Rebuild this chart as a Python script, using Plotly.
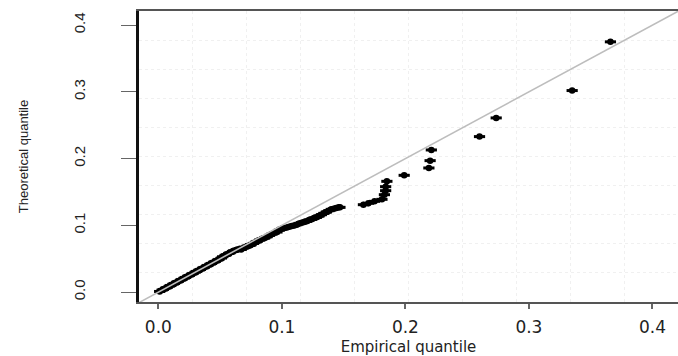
import plotly.graph_objects as go

# ---- data ----
empirical = [
    0.001, 0.003, 0.004, 0.006, 0.007, 0.009, 0.010, 0.012, 0.013, 0.015,
    0.016, 0.018, 0.019, 0.021, 0.022, 0.024, 0.025, 0.027, 0.028, 0.030,
    0.031, 0.033, 0.034, 0.036, 0.037, 0.039, 0.040, 0.042, 0.043, 0.045,
    0.046, 0.048, 0.049, 0.051, 0.052, 0.054, 0.055, 0.057, 0.058, 0.060,
    0.061, 0.063, 0.064, 0.066,
    0.067, 0.069, 0.070, 0.072, 0.074, 0.075, 0.077, 0.079, 0.080, 0.082,
    0.084, 0.086, 0.088, 0.090, 0.092, 0.094, 0.096, 0.098, 0.100, 0.101,
    0.102, 0.104, 0.106, 0.108, 0.110, 0.112, 0.114, 0.116, 0.118, 0.120,
    0.122, 0.124, 0.126, 0.128, 0.130, 0.132, 0.134, 0.136, 0.138, 0.140,
    0.142, 0.144, 0.146, 0.147,
    0.166, 0.170, 0.175, 0.181, 0.183, 0.184, 0.184, 0.185,
    0.199, 0.219, 0.220, 0.221, 0.260, 0.2735, 0.335, 0.366,
]
theoretical = [
    0.001, 0.003, 0.004, 0.006, 0.007, 0.009, 0.010, 0.012, 0.013, 0.015,
    0.016, 0.018, 0.019, 0.021, 0.022, 0.024, 0.025, 0.027, 0.028, 0.030,
    0.031, 0.033, 0.034, 0.036, 0.037, 0.039, 0.040, 0.042, 0.043, 0.045,
    0.046, 0.048, 0.049, 0.051, 0.053, 0.055, 0.056, 0.058, 0.059, 0.061,
    0.062, 0.063, 0.064, 0.065,
    0.064, 0.066, 0.067, 0.069, 0.070, 0.071, 0.073, 0.075, 0.076, 0.078,
    0.080, 0.081, 0.083, 0.085, 0.087, 0.089, 0.090, 0.093, 0.095, 0.096,
    0.096, 0.097, 0.098, 0.099, 0.100, 0.101, 0.103, 0.104, 0.105, 0.106,
    0.108, 0.109, 0.111, 0.112, 0.114, 0.116, 0.118, 0.120, 0.122, 0.124,
    0.125, 0.126, 0.127, 0.127,
    0.131, 0.133, 0.136, 0.139, 0.146, 0.152, 0.158, 0.166,
    0.175, 0.186, 0.197, 0.213, 0.233, 0.261, 0.302, 0.375,
]
identity_line = [-0.05, 0.5]
tick_vals = [0.0, 0.1, 0.2, 0.3, 0.4]
tick_text = ["0.0", "0.1", "0.2", "0.3", "0.4"]
x_range = [-0.0157, 0.4207]
y_range = [-0.0148, 0.4212]

fig = go.Figure()

# points (circle + short horizontal bar to give the stretched, oval look)
fig.add_trace(go.Scatter(
    x=empirical, y=theoretical, mode="markers",
    marker=dict(symbol="circle", size=6.5, color="black", line=dict(width=0)),
    showlegend=False, hoverinfo="skip",
))
fig.add_trace(go.Scatter(
    x=empirical, y=theoretical, mode="markers",
    marker=dict(symbol="line-ew", size=8, line=dict(width=3, color="black")),
    showlegend=False, hoverinfo="skip",
))
# identity reference line drawn on top
fig.add_trace(go.Scatter(
    x=identity_line, y=identity_line, mode="lines",
    line=dict(color="#bdbdbd", width=1.6),
    showlegend=False, hoverinfo="skip",
))

grid_minor_x = dict(tick0=x_range[0], dtick=(x_range[1] - x_range[0]) / 10,
                    showgrid=True, gridcolor="#f0f0f0", griddash="dot",
                    gridwidth=1, ticks="")
grid_minor_y = dict(tick0=y_range[0], dtick=(y_range[1] - y_range[0]) / 10,
                    showgrid=True, gridcolor="#f0f0f0", griddash="dot",
                    gridwidth=1, ticks="")

fig.update_layout(
    width=678, height=356,
    margin=dict(l=139, r=0, t=11, b=54),
    paper_bgcolor="white", plot_bgcolor="white",
    xaxis=dict(
        range=x_range, tickvals=tick_vals, ticktext=tick_text,
        automargin=False,
        showgrid=False, zeroline=False,
        showline=True, linecolor="#555555", linewidth=2, mirror=True,
        ticks="outside", ticklen=5, tickwidth=1.5, tickcolor="#666666",
        ticklabelstandoff=4,
        tickfont=dict(family="DejaVu Sans", size=17, color="#222222"),
        title=dict(text="Empirical quantile", standoff=7,
                   font=dict(family="DejaVu Sans", size=15, color="#222222")),
        minor=grid_minor_x,
    ),
    yaxis=dict(
        range=y_range, tickvals=tick_vals, ticktext=tick_text,
        automargin=False,
        showgrid=False, zeroline=False,
        showline=True, linecolor="#111111", linewidth=3, mirror=False,
        ticks="outside", ticklen=15, tickwidth=1, tickcolor="#666666",
        tickangle=-90, ticklabelstandoff=30,
        tickfont=dict(family="Liberation Sans", size=15, color="#222222"),
        title=dict(text="Theoretical quantile", standoff=40,
                   font=dict(family="Liberation Sans Narrow, Liberation Sans",
                             size=13, color="#222222")),
        minor=grid_minor_y,
    ),
)

fig.write_html("out.html", config={"displayModeBar": False},
               post_script="document.body.style.margin='0';")
